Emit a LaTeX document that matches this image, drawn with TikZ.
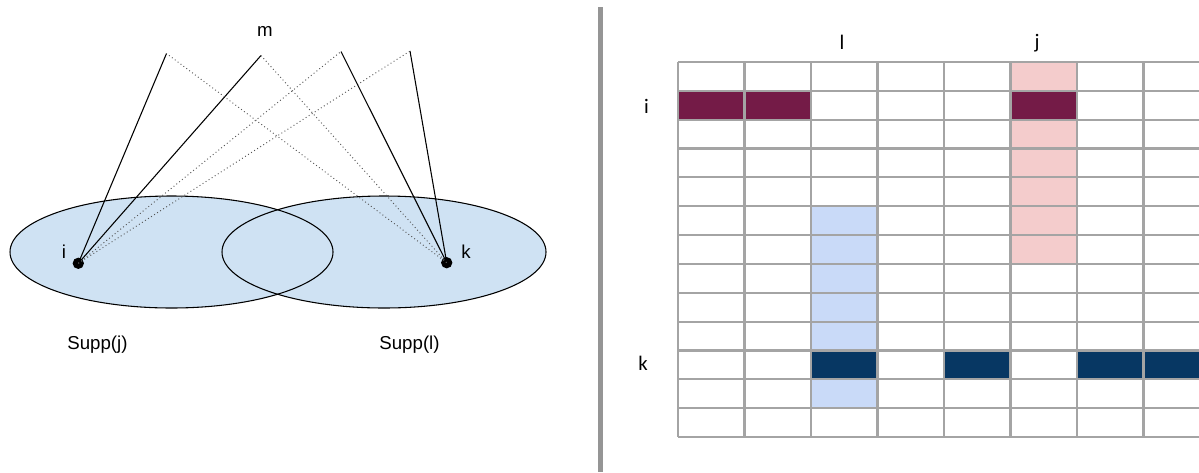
\documentclass[tikz,border=0pt]{standalone}
\usepackage{fontspec}
\setmainfont{Liberation Sans}
\newfontfamily\calfont{Carlito}
\definecolor{setfill}{HTML}{CFE2F3}
\definecolor{gridgray}{HTML}{A4A4A4}
\definecolor{divgray}{HTML}{959595}
\definecolor{cpurple}{HTML}{741B47}
\definecolor{cpink}{HTML}{F4CCCC}
\definecolor{cblue}{HTML}{C9DAF8}
\definecolor{cnavy}{HTML}{073763}
\definecolor{dotgray}{HTML}{555555}
\tikzset{
  lbl/.style={font=\fontsize{14}{16}\selectfont, inner sep=0pt},
  rlbl/.style={font=\calfont\fontsize{15.5}{18}\selectfont, inner sep=0pt},
  pt/.style={circle, fill=black, inner sep=0pt, minimum size=8.5pt},
  solidline/.style={black, line width=0.8pt},
  dotline/.style={dotgray, line width=0.7pt, dotted},
  setshape/.style={draw=black, line width=0.8pt},
  gridline/.style={gridgray, line width=1.6pt}
}
\begin{document}
\begin{tikzpicture}[x=0.75pt, y=-0.75pt]
\useasboundingbox (0,0) rectangle (1199,472);
\fill[white] (0,0) rectangle (1199,472);
% ---- left part ----
\fill[setfill] (171.5,252) ellipse [x radius=161.5, y radius=56];
\fill[setfill] (384,252) ellipse [x radius=162, y radius=56];
\draw[setshape] (171.5,252) ellipse [x radius=161.5, y radius=56];
\draw[setshape] (384,252) ellipse [x radius=162, y radius=56];
\coordinate (t1) at (166.5,53.5);
\coordinate (t2) at (261,55.5);
\coordinate (t3) at (341,51.5);
\coordinate (t4) at (410,51);
\node[pt] (pi) at (78.3,263.3) {};
\node[pt] (pk) at (446.7,262.7) {};
\draw[solidline] (pi.center) -- (t1);
\draw[solidline] (pi.center) -- (t2);
\draw[dotline] (pi.center) -- (t3);
\draw[dotline] (pi.center) -- (t4);
\draw[solidline] (pk.center) -- (t3);
\draw[solidline] (pk.center) -- (t4);
\draw[dotline] (pk.center) -- (t1);
\draw[dotline] (pk.center) -- (t2);
\node[lbl] (li) at (64,252) {i};
\node[lbl] (lk) at (466,252) {k};
\node[lbl] (lm) at (265,31) {m};
\node[lbl] (lsj) at (97.5,345) {Supp(j)};
\node[lbl] (lsl) at (409.5,345) {Supp(l)};
% ---- divider ----
\draw[divgray, line width=3.4pt] (600.5,7) -- (600.5,472);
% ---- right part: matrix ----
\begin{scope}
\clip (603,0) rectangle (1199,472);
\def\xo{678}\def\cw{66.5}\def\yo{62}\def\rh{28.85}
% pink column j
\foreach \r in {0,2,3,4,5,6}
  \fill[cpink] (\xo+5*\cw,\yo+\r*\rh) rectangle ++(\cw,\rh);
% blue column l
\foreach \r in {5,6,7,8,9,11}
  \fill[cblue] (\xo+2*\cw,\yo+\r*\rh) rectangle ++(\cw,\rh);
% purple row i
\foreach \c in {0,1,5}
  \fill[cpurple] (\xo+\c*\cw,\yo+1*\rh) rectangle ++(\cw,\rh);
% navy row k
\foreach \c in {2,4,6,7}
  \fill[cnavy] (\xo+\c*\cw,\yo+10*\rh) rectangle ++(\cw,\rh);
% grid lines
\foreach \c in {0,...,8}
  \draw[gridline] (\xo+\c*\cw,\yo) -- (\xo+\c*\cw,\yo+13*\rh);
\foreach \r in {0,...,13}
  \draw[gridline] (\xo,\yo+\r*\rh) -- (\xo+8*\cw,\yo+\r*\rh);
\end{scope}
\node[rlbl] (rl) at (842,42) {l};
\node[rlbl] (rj) at (1037,43) {j};
\node[rlbl] (ri) at (646.5,106) {i};
\node[rlbl] (rk) at (643,363) {k};
\end{tikzpicture}
\end{document}
